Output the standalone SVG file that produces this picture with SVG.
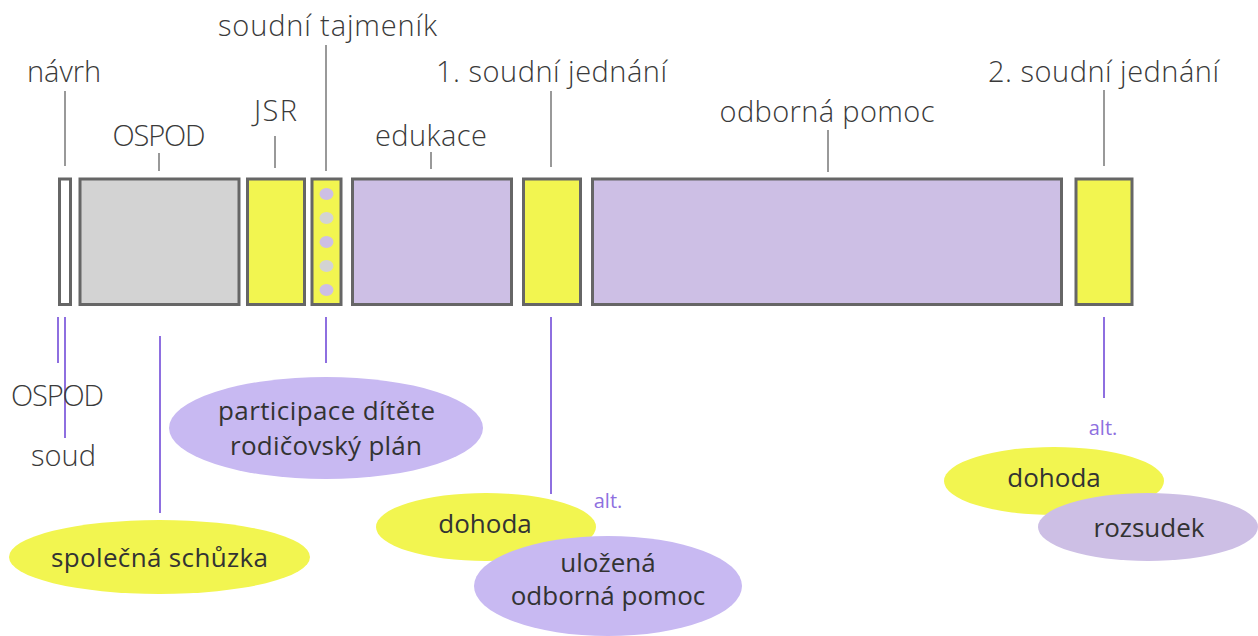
<svg xmlns="http://www.w3.org/2000/svg" width="1258" height="636" viewBox="0 0 1258 636">
<style>
.bar{stroke:#666;stroke-width:3}
.w{fill:#fff}.g{fill:#d3d3d3}.y{fill:#f2f550}.p{fill:#cdbfe5}
.lt{font-family:"Open Sans","Noto Sans",sans-serif;font-weight:300;font-size:29px;fill:#3a3a3a;text-anchor:middle}
.et{font-family:"Open Sans","Noto Sans",sans-serif;font-weight:400;font-size:26px;fill:#333;text-anchor:middle}
.alt{font-family:"Open Sans","Noto Sans",sans-serif;font-size:20px;fill:#8e6fe0;text-anchor:middle}
.tl{stroke:#777;stroke-width:1.5;fill:none}
.bl{stroke:#8e6fe0;stroke-width:2;fill:none}
.ey{fill:#f2f550}.ep{fill:#c8b9f2}.ep2{fill:#cdbfe5}
</style>
<g id="connectors">
<line class="tl" x1="65" y1="91" x2="65" y2="166"/>
<line class="tl" x1="159" y1="153" x2="159" y2="171"/>
<line class="tl" x1="275" y1="136" x2="275" y2="168"/>
<line class="tl" x1="326" y1="45" x2="326" y2="171"/>
<line class="tl" x1="431" y1="152" x2="431" y2="169"/>
<line class="tl" x1="551" y1="91" x2="551" y2="167"/>
<line class="tl" x1="828" y1="130" x2="828" y2="172"/>
<line class="tl" x1="1104" y1="90" x2="1104" y2="166"/>
<line class="bl" x1="58" y1="317" x2="58" y2="363"/>
<line class="bl" x1="65" y1="317" x2="65" y2="438"/>
<line class="bl" x1="160" y1="336" x2="160" y2="513"/>
<line class="bl" x1="326" y1="317" x2="326" y2="363"/>
<line class="bl" x1="551" y1="317" x2="551" y2="494"/>
<line class="bl" x1="1104" y1="317" x2="1104" y2="398"/>
</g>
<g id="navrh">
<rect class="bar w" x="59.5" y="179" width="11" height="125.5"/>
<text class="lt" x="64" y="82" textLength="74">návrh</text>
</g>
<g id="ospod">
<rect class="bar g" x="80" y="179" width="159" height="125.5"/>
<text class="lt" x="159" y="146" textLength="93">OSPOD</text>
</g>
<g id="jsr">
<rect class="bar y" x="247.5" y="179" width="57" height="125.5"/>
<text class="lt" x="275.5" y="121" textLength="43">JSR</text>
</g>
<g id="tajmenik">
<rect class="bar y" x="312" y="179" width="29" height="125.5"/>
<ellipse class="p" cx="326.5" cy="194" rx="7" ry="6"/>
<ellipse class="g" cx="326.5" cy="218" rx="7" ry="6"/>
<ellipse class="p" cx="326.5" cy="242" rx="7" ry="6"/>
<ellipse class="g" cx="326.5" cy="266" rx="7" ry="6"/>
<ellipse class="p" cx="326.5" cy="290" rx="7" ry="6"/>
<text class="lt" x="327.5" y="36" textLength="219">soudní tajmeník</text>
</g>
<g id="edukace">
<rect class="bar p" x="352.5" y="179" width="159" height="125.5"/>
<text class="lt" x="431" y="146" textLength="112">edukace</text>
</g>
<g id="jednani1">
<rect class="bar y" x="523.5" y="179" width="57" height="125.5"/>
<text class="lt" x="551.5" y="82" textLength="231">1. soudní jednání</text>
</g>
<g id="odborna">
<rect class="bar p" x="592.5" y="179" width="469" height="125.5"/>
<text class="lt" x="827" y="122" textLength="215">odborná pomoc</text>
</g>
<g id="jednani2">
<rect class="bar y" x="1076" y="179" width="56" height="125.5"/>
<text class="lt" x="1103.5" y="82" textLength="231">2. soudní jednání</text>
</g>
<g id="ospod-bottom"><text class="lt" x="57.5" y="406" textLength="93">OSPOD</text></g>
<g id="soud"><text class="lt" x="63.5" y="466" textLength="65">soud</text></g>
<g id="participace">
<ellipse class="ep" cx="326" cy="428" rx="157" ry="51"/>
<text class="et" x="326.5" y="420" textLength="217">participace dítěte</text>
<text class="et" x="326" y="455" textLength="192">rodičovský plán</text>
</g>
<g id="schuzka">
<ellipse class="ey" cx="159.5" cy="557" rx="150.5" ry="37"/>
<text class="et" x="159.5" y="567" textLength="217">společná schůzka</text>
</g>
<g id="alt1"><text class="alt" x="608" y="508">alt.</text></g>
<g id="dohoda1">
<ellipse class="ey" cx="486" cy="527" rx="110" ry="34"/>
<text class="et" x="485" y="533">dohoda</text>
</g>
<g id="ulozena">
<ellipse class="ep" cx="608" cy="586" rx="134" ry="50"/>
<text class="et" x="608" y="572">uložená</text>
<text class="et" x="608" y="605">odborná pomoc</text>
</g>
<g id="alt2"><text class="alt" x="1103" y="435">alt.</text></g>
<g id="dohoda2">
<ellipse class="ey" cx="1054" cy="481" rx="110" ry="34"/>
<text class="et" x="1054" y="487">dohoda</text>
</g>
<g id="rozsudek">
<ellipse class="ep2" cx="1148" cy="527" rx="110" ry="34"/>
<text class="et" x="1149" y="537">rozsudek</text>
</g>
</svg>
